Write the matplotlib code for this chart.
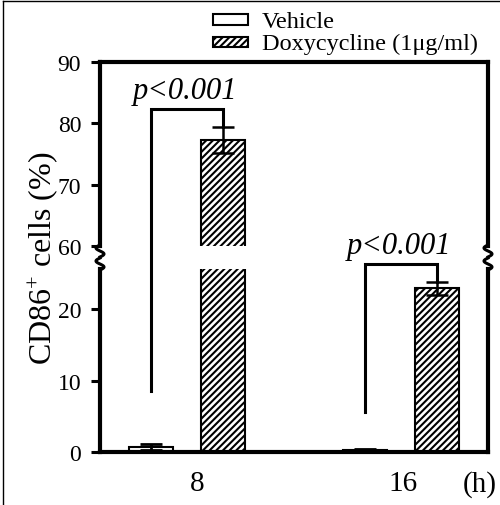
import numpy as np
import matplotlib
matplotlib.use('Agg')
import matplotlib.pyplot as plt
from matplotlib.patches import Rectangle
from matplotlib.lines import Line2D

plt.rcParams['font.family'] = 'serif'
plt.rcParams['font.serif'] = ['Liberation Serif', 'DejaVu Serif']
plt.rcParams['mathtext.fontset'] = 'custom'
plt.rcParams['mathtext.rm'] = 'Liberation Serif'
plt.rcParams['mathtext.it'] = 'Liberation Serif:italic'
plt.rcParams['hatch.linewidth'] = 1.5

# 数据
hours = ['8', '16']
vehicle = [0.7, 0.3]
vehicle_err = [0.45, 0.15]
doxy = [77.3, 22.9]
doxy_err = [2.1, 0.9]
# 显著性标注
sig_left_bottom = [8.5, 5.6]
sig_top = [82.3, 26.3]
sig_text = ['p<0.001', 'p<0.001']
legend_labels = ['Vehicle', 'Doxycycline (1μg/ml)']

W, H = 500, 506
fig = plt.figure(figsize=(W / 100, H / 100), dpi=100)
ax_hi = fig.add_axes([0.2, 0.5119, 0.776, 0.3636])
ax_lo = fig.add_axes([0.2, 0.1047, 0.776, 0.3617])

x = np.arange(len(hours))
off = 0.167
bw = 0.206
HATCH = '/////'

for ax in (ax_hi, ax_lo):
    ax.bar(x - off, vehicle, bw, color='white', edgecolor='black', linewidth=1.5, zorder=2)
    ax.bar(x + off, doxy, bw, color='white', edgecolor='black', linewidth=1.5,
           hatch=HATCH, zorder=2)
    ax.errorbar(x - off, vehicle, yerr=vehicle_err, fmt='none', ecolor='black',
                elinewidth=2, capsize=8, capthick=2, zorder=3)
    ax.errorbar(x + off, doxy, yerr=doxy_err, fmt='none', ecolor='black',
                elinewidth=1.8, capsize=8, capthick=1.8, zorder=3)
    ax.set_xlim(-0.4065, 1.4065)
    for s in ax.spines.values():
        s.set_linewidth(3)
    ax.tick_params(axis='y', direction='out', length=6.5, width=2.2, labelsize=17, pad=7)

ax_hi.set_ylim(60, 90)
ax_hi.set_yticks([60, 70, 80, 90])
ax_hi.spines['bottom'].set_visible(False)
ax_hi.set_xticks([])

ax_lo.set_ylim(0, 25.6)
ax_lo.set_yticks([0, 10, 20])
ax_lo.spines['top'].set_visible(False)
ax_lo.set_xticks([0.047, 1.009, 1.366])
ax_lo.set_xticklabels(['8', '16', '(h)'])
ax_lo.tick_params(axis='x', length=0, labelsize=21, pad=13)

fig.text(0.086, 0.49, r'CD86$^{+}$ cells (%)', rotation=90, fontsize=23,
         ha='center', va='center')

inv = fig.transFigure.inverted()


def to_fig(ax, px, py):
    return inv.transform(ax.transData.transform((px, py)))


# 显著性括号，跨越断轴
brackets = [
    (ax_lo, ax_hi, ax_hi, doxy[0] + doxy_err[0]),
    (ax_lo, ax_lo, ax_lo, doxy[1] + doxy_err[1]),
]
for i, (a_bot, a_top, a_right, cap) in enumerate(brackets):
    p0 = to_fig(a_bot, x[i] - off, sig_left_bottom[i])
    p1 = to_fig(a_top, x[i] - off, sig_top[i])
    p2 = to_fig(a_top, x[i] + off, sig_top[i])
    p3 = to_fig(a_right, x[i] + off, cap)
    fig.add_artist(Line2D([p0[0], p1[0], p2[0], p3[0]], [p0[1], p1[1], p2[1], p3[1]],
                          color='black', lw=2.2, solid_joinstyle='miter'))
    fig.text((p1[0] + p2[0]) / 2 - 0.004, p1[1] + 11 / H, sig_text[i], style='italic',
             fontsize=22, ha='center', va='baseline')


# 断轴的弯曲符号
def squiggle(xf, yf):
    t = np.linspace(-1, 1, 40)
    xs = xf - 4 * np.sin(np.pi * t) / W
    ys = yf + 6 * t / H
    fig.add_artist(Line2D(xs, ys, color='black', lw=2.2))

for xf in (0.2, 0.976):
    squiggle(xf, 0.5119 - 5 / H)
    squiggle(xf, 0.4664 + 5 / H)

# 图例
legend_rows = [(15, 26, 28, None), (38, 48, 50, HATCH)]
for (top, bot, base, hatch), lab in zip(legend_rows, legend_labels):
    fig.add_artist(Rectangle((213 / W, 1 - bot / H), 35 / W, (bot - top) / H,
                             transform=fig.transFigure, facecolor='white',
                             edgecolor='black', linewidth=1.5, hatch=hatch))
    fig.text(262 / W, 1 - base / H, lab, fontsize=17.5, ha='left', va='baseline')

# 外框
fig.add_artist(Line2D([3 / W, 3 / W], [0, 1 - 2 / H], color='black', lw=1))
fig.add_artist(Line2D([3 / W, 1], [1 - 2 / H, 1 - 2 / H], color='black', lw=1))

fig.savefig('out.png', dpi=100)
